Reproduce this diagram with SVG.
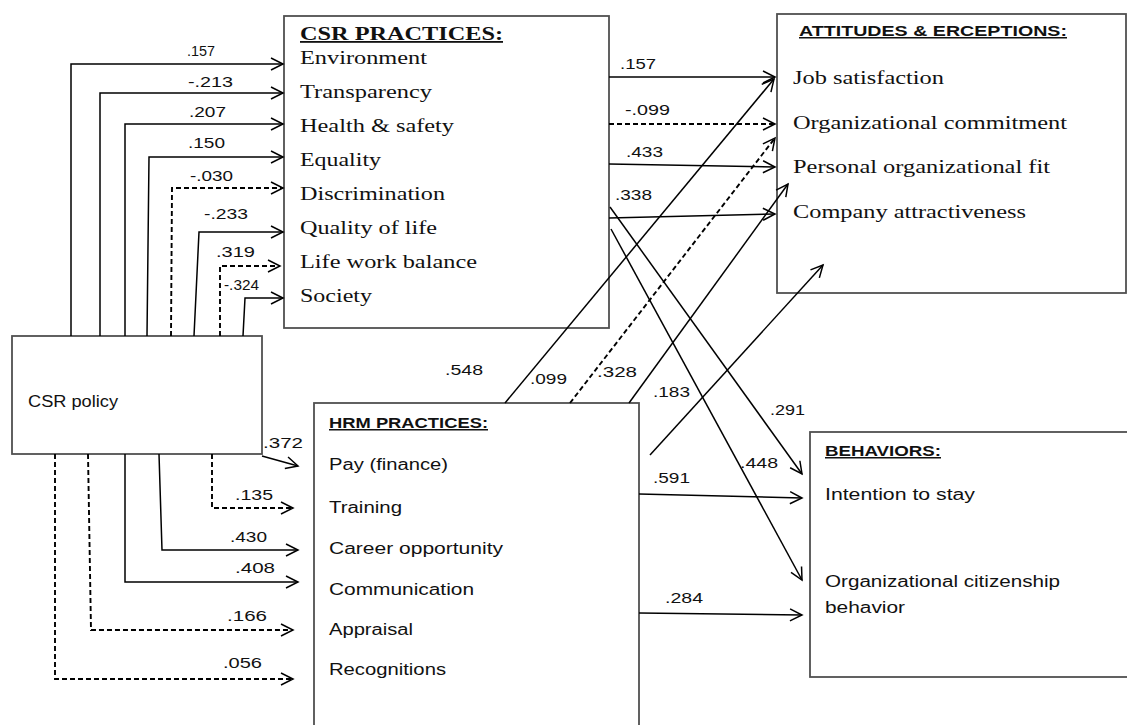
<svg xmlns="http://www.w3.org/2000/svg" width="1127" height="725" viewBox="0 0 1127 725">
<defs>
<marker id="arr" markerUnits="userSpaceOnUse" markerWidth="16" markerHeight="16" refX="13" refY="7" orient="auto">
<path d="M1,1 L13,7 L1,13" fill="none" stroke="#000" stroke-width="1.5"/>
</marker>
<style>
.box{fill:#fff;stroke:#505050;stroke-width:1.8}
.c{fill:none;stroke:#000;stroke-width:1.5;marker-end:url(#arr)}
.d{stroke-dasharray:5 3;stroke-width:1.9}
.ser{font-family:"Liberation Serif","Times New Roman",serif;font-size:18px;fill:#111}
.serh{font-family:"Liberation Serif","Times New Roman",serif;font-size:18px;font-weight:bold;fill:#111;text-decoration:underline}
.san{font-family:"Liberation Sans",Arial,sans-serif;font-size:16px;fill:#111}
.sanh{font-family:"Liberation Sans",Arial,sans-serif;font-size:15px;font-weight:bold;fill:#111;text-decoration:underline}
.lab{font-family:"Liberation Sans",Arial,sans-serif;font-size:14px;fill:#111}
</style>
</defs>
<rect width="1127" height="725" fill="#fff"/>

<g id="csr-practices">
<rect class="box" x="284" y="16" width="325" height="312"/>
<text class="serh" x="300" y="40" textLength="203" lengthAdjust="spacingAndGlyphs">CSR PRACTICES:</text>
<text class="ser" x="300" y="64" textLength="127" lengthAdjust="spacingAndGlyphs">Environment</text>
<text class="ser" x="300" y="98" textLength="132" lengthAdjust="spacingAndGlyphs">Transparency</text>
<text class="ser" x="300" y="132" textLength="154" lengthAdjust="spacingAndGlyphs">Health &amp; safety</text>
<text class="ser" x="300" y="166" textLength="81" lengthAdjust="spacingAndGlyphs">Equality</text>
<text class="ser" x="300" y="200" textLength="145" lengthAdjust="spacingAndGlyphs">Discrimination</text>
<text class="ser" x="300" y="234" textLength="137" lengthAdjust="spacingAndGlyphs">Quality of life</text>
<text class="ser" x="300" y="268" textLength="177" lengthAdjust="spacingAndGlyphs">Life work balance</text>
<text class="ser" x="300" y="302" textLength="72" lengthAdjust="spacingAndGlyphs">Society</text>
</g>

<g id="attitudes">
<rect class="box" x="777" y="14" width="349" height="279"/>
<text class="sanh" x="799" y="36" textLength="268" lengthAdjust="spacingAndGlyphs">ATTITUDES &amp; ERCEPTIONS:</text>
<text class="ser" x="793" y="84" textLength="151" lengthAdjust="spacingAndGlyphs">Job satisfaction</text>
<text class="ser" x="793" y="129" textLength="274" lengthAdjust="spacingAndGlyphs">Organizational commitment</text>
<text class="ser" x="793" y="173" textLength="257" lengthAdjust="spacingAndGlyphs">Personal organizational fit</text>
<text class="ser" x="793" y="218" textLength="233" lengthAdjust="spacingAndGlyphs">Company attractiveness</text>
</g>

<g id="csr-policy">
<rect class="box" x="12" y="336" width="250" height="118"/>
<text class="san" x="28" y="407" textLength="90" lengthAdjust="spacingAndGlyphs">CSR policy</text>
</g>

<g id="hrm-practices">
<rect class="box" x="314" y="403" width="325" height="330"/>
<text class="sanh" x="329" y="428" textLength="159" lengthAdjust="spacingAndGlyphs">HRM PRACTICES:</text>
<text class="san" x="329" y="470" textLength="119" lengthAdjust="spacingAndGlyphs">Pay (finance)</text>
<text class="san" x="329" y="513" textLength="73" lengthAdjust="spacingAndGlyphs">Training</text>
<text class="san" x="329" y="554" textLength="174" lengthAdjust="spacingAndGlyphs">Career opportunity</text>
<text class="san" x="329" y="595" textLength="145" lengthAdjust="spacingAndGlyphs">Communication</text>
<text class="san" x="329" y="635" textLength="84" lengthAdjust="spacingAndGlyphs">Appraisal</text>
<text class="san" x="329" y="675" textLength="117" lengthAdjust="spacingAndGlyphs">Recognitions</text>
</g>

<g id="behaviors">
<rect class="box" x="810" y="432" width="330" height="245"/>
<text class="sanh" x="825" y="456" textLength="116" lengthAdjust="spacingAndGlyphs">BEHAVIORS:</text>
<text class="san" x="825" y="500" textLength="150" lengthAdjust="spacingAndGlyphs">Intention to stay</text>
<text class="san" x="825" y="587" textLength="235" lengthAdjust="spacingAndGlyphs">Organizational citizenship</text>
<text class="san" x="825" y="613" textLength="80" lengthAdjust="spacingAndGlyphs">behavior</text>
</g>

<g id="connectors">
<path class="c" d="M71,336 V64 H283"/>
<path class="c" d="M100,336 V93 H283"/>
<path class="c" d="M125,336 V124 H283"/>
<path class="c" d="M147,336 L149,157 H283"/>
<path class="c d" d="M171,336 L172,188 H283"/>
<path class="c" d="M194,336 L199,232 H283"/>
<path class="c d" d="M220,336 V266 H280"/>
<path class="c" d="M243,336 L245,298 H283"/>
<path class="c" d="M262,456 L298,466"/>
<path class="c d" d="M212,454 V508 H293"/>
<path class="c" d="M159,454 L162,550 H298"/>
<path class="c" d="M125,454 V582 H298"/>
<path class="c d" d="M88,454 L91,630 H293"/>
<path class="c d" d="M55,454 V679 H293"/>
<path class="c" d="M609,77 H775"/>
<path class="c d" d="M609,124 H775"/>
<path class="c" d="M609,164 L775,167"/>
<path class="c" d="M609,218 L775,214"/>
<path class="c" d="M610,207 L802,474"/>
<path class="c" d="M611,229 L802,580"/>
<path class="c" d="M505,403 L774,79"/>
<path class="c d" d="M570,403 L775,138"/>
<path class="c" d="M629,403 L788,184"/>
<path class="c" d="M650,455 L823,265"/>
<path class="c" d="M639,494 L802,498"/>
<path class="c" d="M639,613 L802,615"/>
<text class="lab" x="187" y="56" textLength="28" lengthAdjust="spacingAndGlyphs">.157</text>
<text class="lab" x="188" y="87" textLength="45" lengthAdjust="spacingAndGlyphs">-.213</text>
<text class="lab" x="189" y="117" textLength="37" lengthAdjust="spacingAndGlyphs">.207</text>
<text class="lab" x="188" y="148" textLength="37" lengthAdjust="spacingAndGlyphs">.150</text>
<text class="lab" x="190" y="181" textLength="43" lengthAdjust="spacingAndGlyphs">-.030</text>
<text class="lab" x="204" y="219" textLength="44" lengthAdjust="spacingAndGlyphs">-.233</text>
<text class="lab" x="216" y="257" textLength="39" lengthAdjust="spacingAndGlyphs">.319</text>
<text class="lab" x="224" y="290" font-size="12" textLength="35" lengthAdjust="spacingAndGlyphs">-.324</text>
<text class="lab" x="263" y="448" textLength="40" lengthAdjust="spacingAndGlyphs">.372</text>
<text class="lab" x="235" y="500" textLength="38" lengthAdjust="spacingAndGlyphs">.135</text>
<text class="lab" x="230" y="542" textLength="37" lengthAdjust="spacingAndGlyphs">.430</text>
<text class="lab" x="235" y="573" textLength="40" lengthAdjust="spacingAndGlyphs">.408</text>
<text class="lab" x="227" y="621" textLength="40" lengthAdjust="spacingAndGlyphs">.166</text>
<text class="lab" x="223" y="668" textLength="39" lengthAdjust="spacingAndGlyphs">.056</text>
<text class="lab" x="620" y="69" textLength="36" lengthAdjust="spacingAndGlyphs">.157</text>
<text class="lab" x="625" y="115" textLength="45" lengthAdjust="spacingAndGlyphs">-.099</text>
<text class="lab" x="626" y="157" textLength="37" lengthAdjust="spacingAndGlyphs">.433</text>
<text class="lab" x="615" y="200" textLength="37" lengthAdjust="spacingAndGlyphs">.338</text>
<text class="lab" x="445" y="375" textLength="38" lengthAdjust="spacingAndGlyphs">.548</text>
<text class="lab" x="530" y="384" textLength="37" lengthAdjust="spacingAndGlyphs">.099</text>
<text class="lab" x="597" y="377" textLength="40" lengthAdjust="spacingAndGlyphs">.328</text>
<text class="lab" x="653" y="397" textLength="37" lengthAdjust="spacingAndGlyphs">.183</text>
<text class="lab" x="770" y="415" textLength="35" lengthAdjust="spacingAndGlyphs">.291</text>
<text class="lab" x="740" y="468" textLength="38" lengthAdjust="spacingAndGlyphs">.448</text>
<text class="lab" x="653" y="483" textLength="37" lengthAdjust="spacingAndGlyphs">.591</text>
<text class="lab" x="665" y="603" textLength="38" lengthAdjust="spacingAndGlyphs">.284</text>
</g>
</svg>
